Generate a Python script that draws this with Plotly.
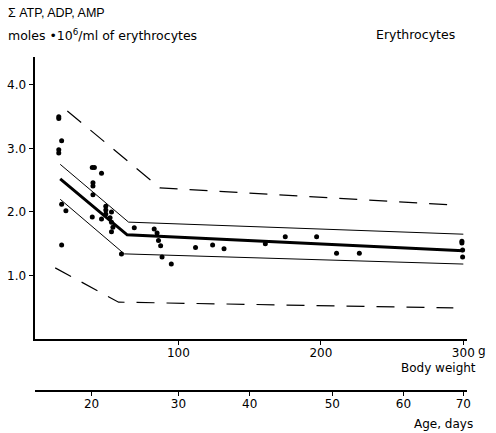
import plotly.graph_objects as go

# Scatter data: body weight (g) vs sum ATP+ADP+AMP
pts_x = [16, 16, 18, 16, 16, 18, 21, 18,
         39.5, 41, 46, 40, 40, 40, 39.5, 46,
         49, 49, 49, 53, 52, 53, 54, 53, 60, 69, 83, 85, 86, 87.5, 88.5, 95,
         112, 124, 132, 161, 175, 197, 211, 227, 299, 299, 299.5, 299.5]
pts_y = [3.50, 3.47, 3.12, 2.98, 2.93, 2.12, 2.02, 1.48,
         2.70, 2.70, 2.61, 2.46, 2.41, 2.27, 1.92, 1.89,
         2.09, 2.03, 1.97, 2.00, 1.91, 1.84, 1.76, 1.69, 1.34, 1.75, 1.73, 1.67, 1.55, 1.47, 1.29, 1.18,
         1.44, 1.48, 1.42, 1.50, 1.61, 1.61, 1.35, 1.35, 1.54, 1.51, 1.40, 1.29]

mean_x = [17, 64, 300]
mean_y = [2.52, 1.64, 1.39]
upper_x = [17, 65, 300]
upper_y = [2.75, 1.84, 1.65]
lower_x = [17, 62, 300]
lower_y = [2.20, 1.34, 1.18]
updash_x = [22, 87, 293]
updash_y = [3.59, 2.38, 2.11]
lowdash_x = [13.5, 58, 293]
lowdash_y = [1.12, 0.58, 0.49]

weight_ticks = [100, 200, 300]
weight_ticktext = ["100", "200", "300"]
y_ticks = [1.0, 2.0, 3.0, 4.0]
y_ticktext = ["1.0", "2.0", "3.0", "4.0"]
age_days = ["20", "30", "40", "50", "60", "70"]
weight_at_age = [39, 100, 150, 208, 258, 300]

FONT = "DejaVu Sans"
fig = go.Figure()

dash = "18px,12px"
fig.add_trace(go.Scatter(x=updash_x, y=updash_y, mode="lines",
                         line=dict(color="black", width=1.2, dash=dash)))
fig.add_trace(go.Scatter(x=lowdash_x, y=lowdash_y, mode="lines",
                         line=dict(color="black", width=1.2, dash=dash)))
fig.add_trace(go.Scatter(x=upper_x, y=upper_y, mode="lines",
                         line=dict(color="black", width=1)))
fig.add_trace(go.Scatter(x=lower_x, y=lower_y, mode="lines",
                         line=dict(color="black", width=1)))
fig.add_trace(go.Scatter(x=mean_x, y=mean_y, mode="lines",
                         line=dict(color="black", width=3)))
fig.add_trace(go.Scatter(x=pts_x, y=pts_y, mode="markers",
                         marker=dict(color="black", size=5)))
# invisible trace for the age axis
fig.add_trace(go.Scatter(x=[weight_at_age[0]], y=[0], xaxis="x2", mode="markers",
                         marker=dict(opacity=0), hoverinfo="skip"))

xr = [-1.04, 302.8]
tf = dict(size=12, family=FONT, color="black")
fig.update_layout(
    width=496, height=433,
    margin=dict(l=0, r=0, t=0, b=0),
    paper_bgcolor="white", plot_bgcolor="white",
    showlegend=False,
    font=dict(family=FONT, size=12, color="black"),
    xaxis=dict(domain=[35/496, 474/496], range=xr, showgrid=False, zeroline=False,
               showline=True, linecolor="black", linewidth=2,
               ticks="outside", ticklen=4, tickcolor="black",
               tickvals=weight_ticks, ticktext=weight_ticktext,
               tickfont=tf, ticklabelstandoff=-2),
    xaxis2=dict(domain=[35/496, 474/496], range=xr, overlaying="x", anchor="free",
                position=1 - 391/433, side="bottom", showgrid=False, zeroline=False,
                showline=True, linecolor="black", linewidth=2,
                ticks="outside", ticklen=4, tickcolor="black",
                tickvals=weight_at_age, ticktext=age_days, tickfont=tf,
                ticklabelstandoff=-2),
    yaxis=dict(domain=[1 - 339/433, 1 - 57/433], range=[0, 4.44], showgrid=False,
               zeroline=False, showline=True, linecolor="black", linewidth=2,
               ticks="outside", ticklen=4, tickcolor="black",
               tickvals=y_ticks, ticktext=y_ticktext, tickfont=tf),
)

def ann(text, x, y, xanchor="left", size=12, family=FONT):
    fig.add_annotation(text=text, x=x/496, y=1 - y/433, xref="paper", yref="paper",
                       xanchor=xanchor, yanchor="middle", showarrow=False,
                       font=dict(size=size, family=family, color="black"))

ann("Σ ATP, ADP, AMP", 6, 13, size=12.5, family="Liberation Sans")
ann("moles •10<sup>6</sup>/ml of erythrocytes", 6, 35, size=12.5)
ann("Erythrocytes", 464, 35, xanchor="right", size=12.5)
ann("g", 483, 351)
ann("Body weight", 485, 368, xanchor="right")
ann("Age, days", 482, 424, xanchor="right")

fig.write_html("out.html")
